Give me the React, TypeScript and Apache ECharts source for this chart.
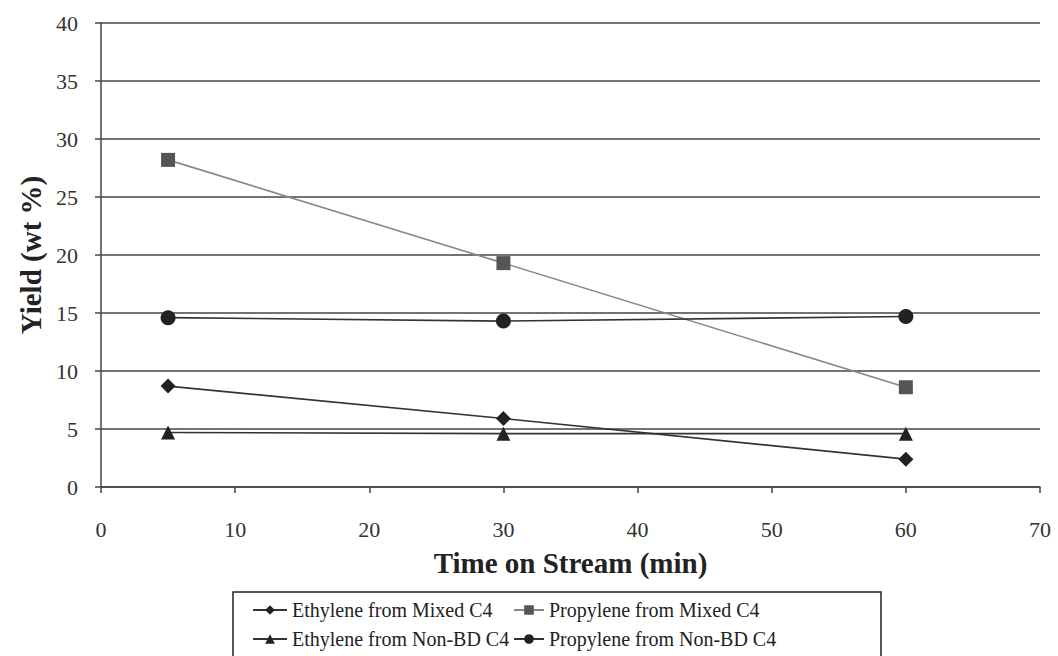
import React, { useEffect, useRef } from "react";
import * as echarts from "echarts";

const timeMin = [5, 30, 60];
const ethyleneMixed = [8.7, 5.9, 2.4];
const propyleneMixed = [28.2, 19.3, 8.6];
const ethyleneNonBD = [4.7, 4.6, 4.6];
const propyleneNonBD = [14.6, 14.3, 14.7];

const seriesNames = [
  "Ethylene from Mixed C4",
  "Propylene from Mixed C4",
  "Ethylene from Non-BD C4",
  "Propylene from Non-BD C4",
];

const FONT = "'Liberation Serif', 'Times New Roman', serif";

export default function App() {
  const ref = useRef<HTMLDivElement>(null);
  useEffect(() => {
    if (!ref.current) return;
    const chart = echarts.init(ref.current, undefined, { renderer: "svg" });
    const pair = (ys: number[]) => timeMin.map((x, i) => [x, ys[i]]);
    const mk = (name: string, ys: number[], symbol: string, color: string, lineColor: string, size: number) => ({
      name,
      type: "line",
      data: pair(ys),
      symbol,
      symbolSize: size,
      itemStyle: { color },
      lineStyle: { color: lineColor, width: 1.6 },
      z: 3,
    });
    const legendText = { fontFamily: FONT, fontSize: 20, color: "#222" };
    chart.setOption({
      animation: false,
      backgroundColor: "#fff",
      textStyle: { fontFamily: FONT },
      grid: { left: 101, right: 18, top: 23, bottom: 169 },
      xAxis: {
        type: "value",
        min: 0,
        max: 70,
        interval: 10,
        name: "Time on Stream (min)",
        nameLocation: "middle",
        nameGap: 61,
        nameTextStyle: { fontFamily: FONT, fontSize: 29, fontWeight: "bold", color: "#222" },
        axisLine: { show: true, lineStyle: { color: "#444", width: 1.5 } },
        axisTick: { show: true, length: 6, lineStyle: { color: "#444", width: 1.5 } },
        axisLabel: { fontFamily: FONT, fontSize: 22, color: "#333", margin: 31 },
        splitLine: { show: false },
      },
      yAxis: {
        type: "value",
        min: 0,
        max: 40,
        interval: 5,
        name: "Yield (wt %)",
        nameLocation: "middle",
        nameGap: 55,
        nameTextStyle: { fontFamily: FONT, fontSize: 29, fontWeight: "bold", color: "#222" },
        axisLine: { show: true, lineStyle: { color: "#444", width: 1.5 } },
        axisTick: { show: true, length: 6, lineStyle: { color: "#444", width: 1.5 } },
        axisLabel: { fontFamily: FONT, fontSize: 22, color: "#333", margin: 23 },
        splitLine: { show: true, lineStyle: { color: "#444", width: 1.5 } },
      },
      legend: [
        {
          data: [seriesNames[0], seriesNames[2]],
          orient: "vertical",
          left: 247,
          top: 595,
          itemGap: 9,
          itemWidth: 34,
          itemHeight: 12,
          textStyle: legendText,
        },
        {
          data: [seriesNames[1], seriesNames[3]],
          orient: "vertical",
          left: 508,
          top: 595,
          itemGap: 9,
          itemWidth: 30,
          itemHeight: 12,
          textStyle: legendText,
        },
      ],
      graphic: [
        {
          type: "rect",
          shape: { x: 233, y: 592, width: 648, height: 70 },
          style: { fill: "none", stroke: "#222", lineWidth: 1.5 },
        },
      ],
      series: [
        mk(seriesNames[0], ethyleneMixed, "diamond", "#222", "#333", 15),
        mk(seriesNames[1], propyleneMixed, "rect", "#555", "#888", 14),
        mk(seriesNames[2], ethyleneNonBD, "triangle", "#222", "#333", 14),
        mk(seriesNames[3], propyleneNonBD, "circle", "#222", "#333", 15),
      ],
    });
    return () => chart.dispose();
  }, []);
  return <div ref={ref} style={{ width: 1058, height: 656, position: "absolute", left: 0, top: 0 }} />;
}
